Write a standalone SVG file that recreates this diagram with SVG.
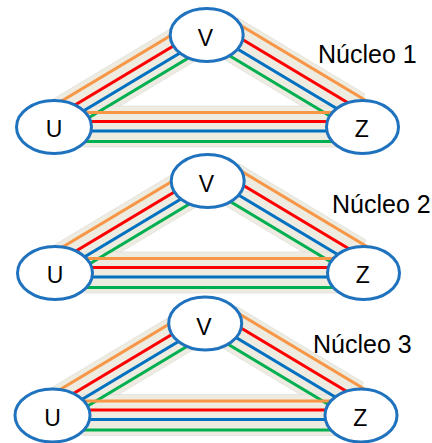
<svg xmlns="http://www.w3.org/2000/svg" xmlns:xlink="http://www.w3.org/1999/xlink" width="432" height="443" viewBox="0 0 432 443">
  <style>
    .band { fill: #EEECE1; stroke: #D9D9D9; stroke-width: 0.6; }
    .wire { fill: none; stroke-width: 3.2; stroke-linecap: butt; }
    .o { stroke: #F79646; }
    .r { stroke: #FF0000; }
    .b { stroke: #0070C0; }
    .g { stroke: #00B050; }
    .node { fill: #FFFFFF; stroke: #1F72BE; stroke-width: 3; }
    .nlabel { font-family: "Liberation Sans", Arial, sans-serif; font-size: 23px; fill: #000; text-anchor: middle; }
    .title { font-family: "Liberation Sans", Arial, sans-serif; font-size: 25px; fill: #000; }
  </style>
  <defs>
    <!-- four coloured links on each side of the U-V-Z triangle, over a tan band -->
    <g id="links">
      <polygon class="band" points="48,102.2 185,20 200,58 75,133"/>
      <polygon class="band" points="238,17.8 365,94 345,132 215,54"/>
      <polygon class="band" points="84,106 345,106 345,147 84,147"/>
      <!-- U - V -->
      <line class="wire o" x1="60" y1="102" x2="180" y2="30"/>
      <line class="wire r" x1="70" y1="108" x2="185" y2="39"/>
      <line class="wire b" x1="75" y1="116" x2="190" y2="47"/>
      <line class="wire g" x1="80" y1="123" x2="195" y2="54"/>
      <!-- V - Z -->
      <line class="wire o" x1="230" y1="19" x2="370" y2="103"/>
      <line class="wire r" x1="225" y1="29" x2="355" y2="107"/>
      <line class="wire b" x1="220" y1="38.5" x2="350" y2="116.5"/>
      <line class="wire g" x1="215" y1="47" x2="345" y2="125"/>
      <!-- U - Z -->
      <line class="wire o" x1="70" y1="112.5" x2="350" y2="112.5"/>
      <line class="wire r" x1="70" y1="121.5" x2="350" y2="121.5"/>
      <line class="wire b" x1="70" y1="131" x2="350" y2="131"/>
      <line class="wire g" x1="70" y1="141.5" x2="350" y2="141.5"/>
    </g>
  </defs>

  <!-- core 1 -->
  <g id="core1">
    <g id="links1"><use xlink:href="#links"/></g>
    <g id="V1"><ellipse class="node" cx="206.7" cy="35" rx="36.5" ry="26.5"/><text class="nlabel" x="205.5" y="46">V</text></g>
    <g id="U1"><ellipse class="node" cx="54" cy="127" rx="37.5" ry="26.5"/><text class="nlabel" x="54" y="137">U</text></g>
    <g id="Z1"><ellipse class="node" cx="362.5" cy="127" rx="36" ry="26.5"/><text class="nlabel" x="361.7" y="137">Z</text></g>
  </g>
  <text class="title" x="318" y="63">Núcleo 1</text>

  <!-- core 2 -->
  <g id="core2" transform="translate(1,146)">
    <g id="links2"><use xlink:href="#links"/></g>
    <g id="V2"><ellipse class="node" cx="206.7" cy="35" rx="36.5" ry="26.5"/><text class="nlabel" x="205.5" y="46">V</text></g>
    <g id="U2"><ellipse class="node" cx="54" cy="127" rx="37.5" ry="26.5"/><text class="nlabel" x="54" y="137">U</text></g>
    <g id="Z2"><ellipse class="node" cx="362.5" cy="127" rx="36" ry="26.5"/><text class="nlabel" x="361.7" y="137">Z</text></g>
  </g>
  <text class="title" x="332" y="213">Núcleo 2</text>

  <!-- core 3 -->
  <g id="core3" transform="translate(-1.5,288.5)">
    <g id="links3"><use xlink:href="#links"/></g>
    <g id="V3"><ellipse class="node" cx="206.7" cy="35" rx="36.5" ry="26.5"/><text class="nlabel" x="205.5" y="46">V</text></g>
    <g id="U3"><ellipse class="node" cx="54" cy="127" rx="37.5" ry="26.5"/><text class="nlabel" x="54" y="137">U</text></g>
    <g id="Z3"><ellipse class="node" cx="362.5" cy="127" rx="36" ry="26.5"/><text class="nlabel" x="361.7" y="137">Z</text></g>
  </g>
  <text class="title" x="313" y="353">Núcleo 3</text>
</svg>
